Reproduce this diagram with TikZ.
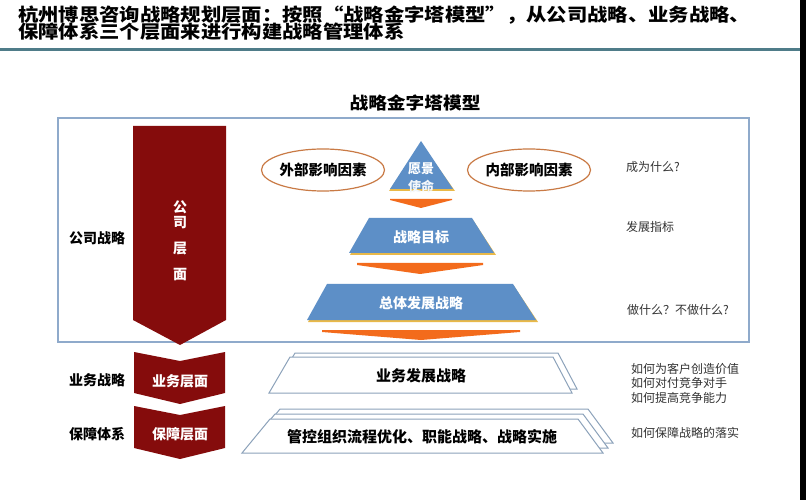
\documentclass[tikz,border=0pt]{standalone}
\usepackage{fontspec}
\setmainfont{Noto Sans CJK SC}
\usetikzlibrary{shapes.geometric}
\definecolor{hdr}{HTML}{4F7C89}
\definecolor{boxc}{HTML}{8FAACB}
\definecolor{dred}{HTML}{850C0C}
\definecolor{pblue}{HTML}{5D8FC7}
\definecolor{pgold}{HTML}{E9B949}
\definecolor{porange}{HTML}{F36B1C}
\definecolor{ellc}{HTML}{C97A45}
\definecolor{trapc}{HTML}{8CA2BA}
\definecolor{notec}{HTML}{333333}
\tikzset{
  every node/.style={inner sep=0pt, outer sep=0pt},
  ttl/.style={font=\fontsize{18}{17}\selectfont\bfseries, xscale=1.13, anchor=west},
  maintitle/.style={font=\fontsize{17}{19}\selectfont\bfseries, xscale=1.1},
  lbl/.style={font=\fontsize{14}{16}\selectfont\bfseries},
  wht/.style={font=\fontsize{14}{16}\selectfont\bfseries, text=white},
  vwht/.style={font=\fontsize{14}{16}\selectfont\bfseries, text=white},
  notetxt/.style={font=\fontsize{12}{14.5}\selectfont, text=notec, anchor=west},
  ellbox/.style={draw=ellc, line width=1.2pt, fill=white, ellipse, minimum width=100pt, minimum height=42pt, font=\fontsize{14.5}{16}\selectfont\bfseries},
  trapbox/.style={draw=trapc, line width=1pt, fill=white},
  layertxt/.style={font=\fontsize{15}{17}\selectfont\bfseries},
}
\begin{document}
\begin{tikzpicture}[x=1pt,y=-1pt]
\useasboundingbox (0,0) rectangle (807,500);
\fill[white] (0,0) rectangle (807,500);
% header
\node[ttl] (t1) at (18,15) {杭州博思咨询战略规划层面：按照“战略金字塔模型”，从公司战略、业务战略、};
\node[ttl] (t2) at (18,31.5) {保障体系三个层面来进行构建战略管理体系};
\draw[hdr, line width=3pt] (0,50) -- (800,50);
\fill[black] (800,0) rectangle (806,500);
% main title
\node[maintitle] (mt) at (415,103) {战略金字塔模型};
% outer box
\draw[boxc, line width=1.5pt, fill=white] (58,118) rectangle (749,342);
% company level arrow
\fill[dred] (133,126) -- (226,126) -- (226,320) -- (180,345) -- (133,320) -- cycle;
\node[vwht] (c1) at (180,207) {公};
\node[vwht] (c2) at (180,223) {司};
\node[vwht] (c3) at (180,249) {层};
\node[vwht] (c4) at (180,275) {面};
\node[lbl] (gs) at (97,238) {公司战略};
% chevrons
\fill[dred] (134,352) -- (180,361) -- (225,352) -- (225,393) -- (180,404) -- (134,393) -- cycle;
\fill[dred] (134,406) -- (180,415) -- (225,406) -- (225,448) -- (180,459) -- (134,448) -- cycle;
\node[wht] (yw) at (180,381) {业务层面};
\node[wht] (bz) at (180,434) {保障层面};
\node[lbl] (ywl) at (97,380) {业务战略};
\node[lbl] (bzl) at (97,434) {保障体系};
% pyramid
\fill[pgold] (421,143) -- (455,191) -- (389,191) -- cycle;
\fill[pblue] (421,141) -- (453,189) -- (390,189) -- cycle;
\node[font=\fontsize{13}{15}\selectfont\bfseries, text=white] (yj) at (421,169) {愿景};
\node[font=\fontsize{13}{15}\selectfont\bfseries, text=white!92!pblue] (sm) at (421,186) {使命};
\fill[porange] (390,199) -- (452,199) -- (452,200) -- (421,208) -- (390,200) -- cycle;
\fill[pgold] (369,220) -- (473,220) -- (496,255) -- (350,255) -- cycle;
\fill[pblue] (369,218) -- (472,218) -- (494,253) -- (349,253) -- cycle;
\node[wht] (zlmb) at (421,237) {战略目标};
\fill[porange] (357,263) -- (483,263) -- (483,265) -- (420,274) -- (357,265) -- cycle;
\fill[pgold] (327,286) -- (514,286) -- (538,322) -- (308,322) -- cycle;
\fill[pblue] (327,284) -- (513,284) -- (536,320) -- (307,320) -- cycle;
\node[wht] (ztfz) at (421,303) {总体发展战略};
\fill[porange] (322,330) -- (520,330) -- (520,332) -- (421,340) -- (322,332) -- cycle;
% ellipses
\node[ellbox] (wb) at (323,170) {外部影响因素};
\node[ellbox] (nb) at (529,170) {内部影响因素};
% right notes
\node[notetxt] (n1) at (626,167) {成为什么?};
\node[notetxt] (n2) at (626,227) {发展指标};
\node[notetxt] (n3) at (627,310) {做什么？不做什么?};
% business layer
\draw[trapbox] (295,353) -- (558,353) -- (577,389) -- (274,389) -- cycle;
\draw[trapbox] (290,357) -- (553,357) -- (572,393) -- (269,393) -- cycle;
\node[layertxt] (ywfz) at (421,376) {业务发展战略};
% support layer
\draw[trapbox] (280,409) -- (588,409) -- (613,443) -- (252,443) -- cycle;
\draw[trapbox] (275,414) -- (583,414) -- (608,448) -- (247,448) -- cycle;
\draw[trapbox] (270,419) -- (578,419) -- (603,453) -- (242,453) -- cycle;
\node[layertxt] (gk) at (422,437) {管控组织流程优化、职能战略、战略实施};
\node[notetxt] (m1) at (631,369) {如何为客户创造价值};
\node[notetxt] (m2) at (631,383) {如何对付竞争对手};
\node[notetxt] (m3) at (631,398) {如何提高竞争能力};
\node[notetxt] (m4) at (631,433) {如何保障战略的落实};
\end{tikzpicture}
\end{document}
